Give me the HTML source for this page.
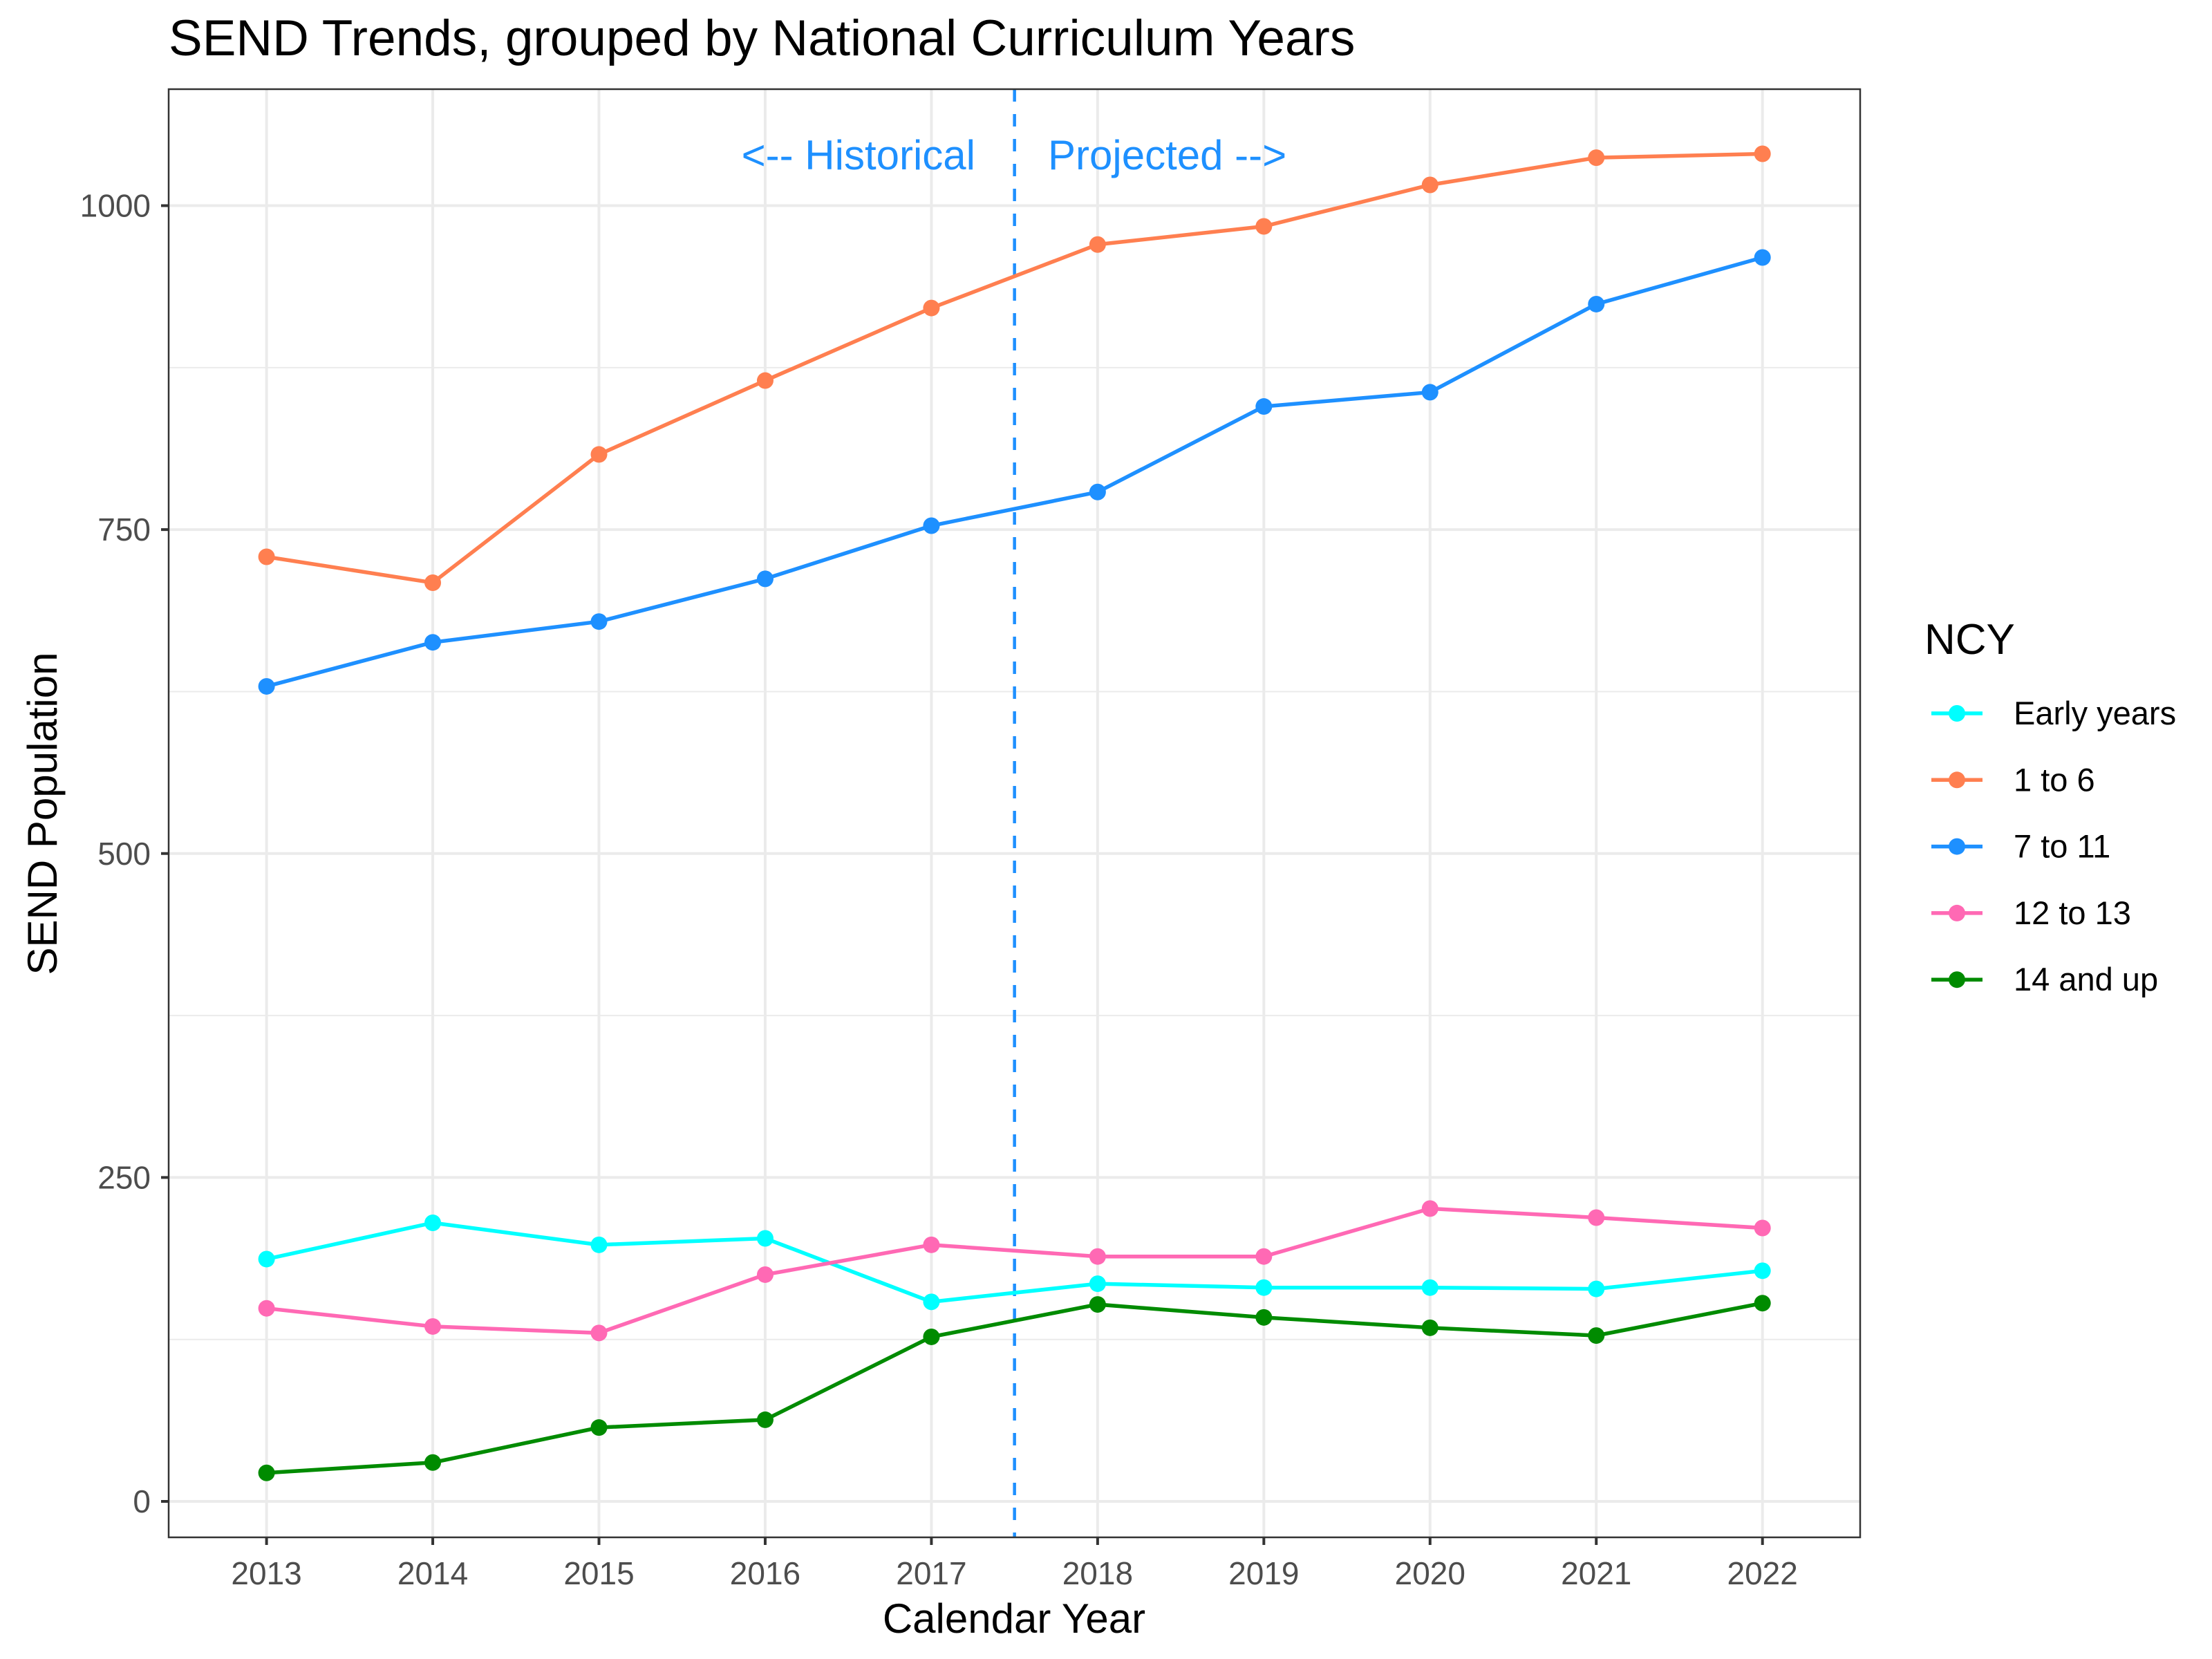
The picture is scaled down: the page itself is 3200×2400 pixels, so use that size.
<!DOCTYPE html>
<html><head><meta charset="utf-8"><style>
html,body{margin:0;padding:0;background:#fff}
svg{display:block}
text{font-family:"Liberation Sans",sans-serif}
</style></head><body>
<svg id="chart" width="3200" height="2400" viewBox="0 0 3200 2400" xmlns="http://www.w3.org/2000/svg">
<rect width="3200" height="2400" fill="#fff"/>
<text x="244" y="80" font-size="73" fill="#000">SEND Trends, grouped by National Curriculum Years</text>
<g id="grid"></g>
<g id="marks"></g>
<rect x="244" y="129" width="2447" height="2095" fill="none" stroke="#333" stroke-width="2.5"/>
<g id="axes"></g>
<text x="1467" y="2362" font-size="60" text-anchor="middle" fill="#000">Calendar Year</text>
<text x="0" y="0" font-size="60" text-anchor="middle" fill="#000" transform="translate(82,1177) rotate(-90)">SEND Population</text>
<text x="1411" y="245" font-size="60" text-anchor="end" fill="#1E90FF">&lt;-- Historical</text>
<text x="1516" y="245" font-size="60" fill="#1E90FF">Projected --&gt;</text>
<g id="legend">
<text x="2784" y="946" font-size="62" fill="#000">NCY</text>
</g>
</svg>
<script>
const years = [2013,2014,2015,2016,2017,2018,2019,2020,2021,2022];
const seriesNames = ["Early years","1 to 6","7 to 11","12 to 13","14 and up"];
const seriesColors = ["#00FFFF","#FF7F50","#1E90FF","#FF69B4","#008B00"];
const earlyYears = [187,215,198,203,154,168,165,165,164,178];
const ncy1to6 = [729,709,808,865,921,970,984,1016,1037,1040];
const ncy7to11 = [629,663,679,712,753,779,845,856,924,960];
const ncy12to13 = [149,135,130,175,198,189,189,226,219,211];
const ncy14up = [22,30,57,63,127,152,142,134,128,153];
const yTicks = [0,250,500,750,1000];
const yMinor = [125,375,625,875];
const splitYear = 2017.5;

const allSeries = [earlyYears,ncy1to6,ncy7to11,ncy12to13,ncy14up];
const NS="http://www.w3.org/2000/svg";
const xScale = v => 385.6 + (v-2013)*(2549.7-385.6)/9;
const yScale = v => 2172 - v*(2172-297.5)/1000;
function mk(tag, attrs, parent){const e=document.createElementNS(NS,tag);for(const k in attrs)e.setAttribute(k,attrs[k]);parent.appendChild(e);return e;}
const grid=document.getElementById('grid'), marks=document.getElementById('marks'), axes=document.getElementById('axes'), legend=document.getElementById('legend');

yMinor.forEach(v=>{const l=mk('line',{x1:244,x2:2691,y1:yScale(v),y2:yScale(v),stroke:'#EBEBEB','stroke-width':2},grid);

});
yTicks.forEach(v=>{const l=mk('line',{x1:244,x2:2691,y1:yScale(v),y2:yScale(v),stroke:'#EBEBEB','stroke-width':4},grid);


const t=mk('line',{x1:233,x2:244,y1:yScale(v),y2:yScale(v),stroke:'#333','stroke-width':4},axes);


const tx=mk('text',{x:218,y:yScale(v)+16,'font-size':46,'text-anchor':'end',fill:'#4D4D4D'},axes);tx.textContent=v;

});
years.forEach(v=>{const l=mk('line',{x1:xScale(v),x2:xScale(v),y1:129,y2:2224,stroke:'#EBEBEB','stroke-width':4},grid);


const t=mk('line',{x1:xScale(v),x2:xScale(v),y1:2224,y2:2235,stroke:'#333','stroke-width':4},axes);


const tx=mk('text',{x:xScale(v),y:2292,'font-size':46,'text-anchor':'middle',fill:'#4D4D4D'},axes);tx.textContent=v;

});

const vl=mk('line',{x1:xScale(splitYear),x2:xScale(splitYear),y1:129,y2:2224,stroke:'#1E90FF','stroke-width':4.5,'stroke-dasharray':'18,18'},marks);



allSeries.forEach((vals,si)=>{
  const pts=vals.map((v,i)=>xScale(years[i])+','+yScale(v)).join(' ');
  const pl=mk('polyline',{points:pts,fill:'none',stroke:seriesColors[si],'stroke-width':5.5},marks);
  
  
  vals.forEach((v,i)=>{const c=mk('circle',{cx:xScale(years[i]),cy:yScale(v),r:12,fill:seriesColors[si]},marks);
    
    });
  const ly=1032+si*96.3;
  const g=mk('g',{},legend);
  
  
  mk('line',{x1:2794,x2:2868,y1:ly,y2:ly,stroke:seriesColors[si],'stroke-width':5.5},g);
  mk('circle',{cx:2831,cy:ly,r:12,fill:seriesColors[si]},g);
  const t=mk('text',{x:2913,y:ly+16,'font-size':47,fill:'#000'},g);t.textContent=seriesNames[si];
});
</script>
</body></html>
